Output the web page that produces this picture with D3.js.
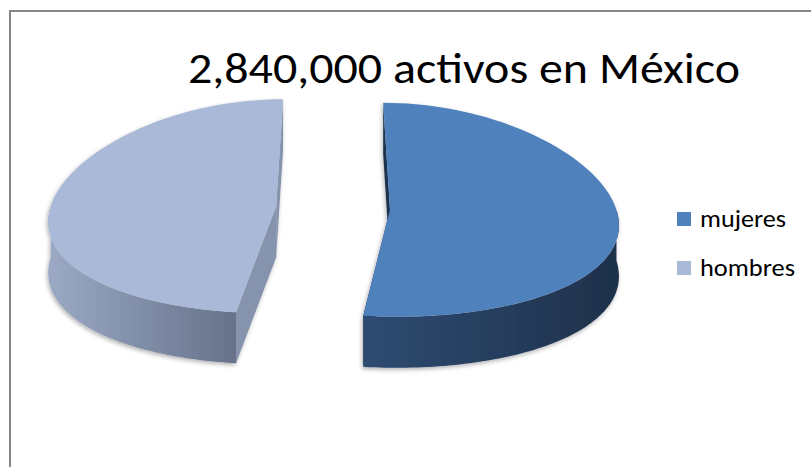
<!DOCTYPE html>
<html lang="es">
<head>
<meta charset="UTF-8">
<title>2,840,000 activos en México</title>
<style>
  body { margin: 0; background: #fff; }
  svg { display: block; font-family: Carlito, Calibri, Lato, sans-serif; }
</style>
</head>
<body>
<script src="https://d3js.org/d3.v7.min.js"></script>
<script>
// data (split)
var title = "2,840,000 activos en México";
var categories = ["mujeres", "hombres"];
var values = [1480000, 1360000];

var width = 811, height = 467;

var svg = d3.select("body").append("svg")
  .attr("width", width).attr("height", height);

// chart frame, runs off the right and bottom edge like the screenshot
svg.append("rect")
  .attr("x", 10).attr("y", 11)
  .attr("width", 900).attr("height", 600)
  .attr("fill", "#fff")
  .attr("stroke", "#868686").attr("stroke-width", 2);

var topColor  = d3.scaleOrdinal().domain(categories).range(["#4f81bd", "#a9b9d7"]);
var cutColor  = d3.scaleOrdinal().domain(categories).range(["#1f3350", "#8693ad"]);
var sideLight = d3.scaleOrdinal().domain(categories).range(["#2e4c72", "#9ba9c5"]);
var sideDark  = d3.scaleOrdinal().domain(categories).range(["#1e304b", "#66728a"]);

// 3d pie geometry; k gives a little perspective (near side wider)
var cx = 333, cy = 208, rx = 226, ry = 107, depth = 51, explode = 57, k = 0.12;

var pie = d3.pie().sort(null).value(function(d) { return d; });
var arcs = pie(values);

function pt(c, a, dz) {
  var gx = c[0] + rx * Math.sin(a), gy = c[1] - ry * Math.cos(a);
  var f = 1 + k * (gy - cy) / ry;
  return [cx + (gx - cx) * f, gy + (dz || 0)];
}
function centre(c, dz) {
  var f = 1 + k * (c[1] - cy) / ry;
  return [cx + (c[0] - cx) * f, c[1] + (dz || 0)];
}
function arcPts(c, a0, a1, dz) {
  var n = 80, out = [];
  for (var j = 0; j <= n; j++) out.push(pt(c, a0 + (a1 - a0) * j / n, dz));
  return out;
}
var line = d3.line().curve(d3.curveLinearClosed);

var defs = svg.append("defs");
var shadow = defs.append("filter").attr("id", "shadow")
  .attr("x", "-10%").attr("y", "-10%").attr("width", "120%").attr("height", "130%");
shadow.append("feDropShadow")
  .attr("dx", -1).attr("dy", 2).attr("stdDeviation", 2)
  .attr("flood-color", "#000").attr("flood-opacity", 0.3);

arcs.forEach(function(d, i) {
  var name = categories[i];
  var mid = (d.startAngle + d.endAngle) / 2;
  var c = [cx + explode * Math.sin(mid), cy - explode * Math.cos(mid) * ry / rx];
  var g = svg.append("g").attr("filter", "url(#shadow)");

  // cut faces
  [d.startAngle, d.endAngle].forEach(function(a) {
    g.append("path")
      .attr("d", line([centre(c), pt(c, a), pt(c, a, depth), centre(c, depth)]))
      .attr("fill", cutColor(name));
  });

  // outer wall, only the front half shows
  var a0 = Math.max(d.startAngle, Math.PI / 2);
  var a1 = Math.min(d.endAngle, 3 * Math.PI / 2);
  if (a1 > a0) {
    var gid = "side" + i;
    var grad = defs.append("linearGradient").attr("id", gid)
      .attr("x1", "0%").attr("x2", "100%").attr("y1", "0%").attr("y2", "0%");
    grad.append("stop").attr("offset", "0%").attr("stop-color", sideLight(name));
    grad.append("stop").attr("offset", "100%").attr("stop-color", sideDark(name));
    var pts = arcPts(c, a0, a1).concat(arcPts(c, a1, a0, depth));
    g.append("path")
      .attr("d", line(pts))
      .attr("fill", "url(#" + gid + ")");
  }

  // top face
  g.append("path")
    .attr("d", line([centre(c)].concat(arcPts(c, d.startAngle, d.endAngle))))
    .attr("fill", topColor(name));
});

// title
svg.append("text")
  .attr("x", 464).attr("y", 83)
  .attr("text-anchor", "middle")
  .attr("font-size", 44)
  .attr("fill", "#000")
  .attr("textLength", 552).attr("lengthAdjust", "spacingAndGlyphs")
  .text(title);

// legend
var legend = svg.append("g").attr("transform", "translate(677,212)");
var item = legend.selectAll("g").data(categories).enter().append("g")
  .attr("transform", function(d, i) { return "translate(0," + i * 49 + ")"; });
item.append("rect")
  .attr("width", 14).attr("height", 14)
  .attr("fill", function(d) { return topColor(d); });
item.append("text")
  .attr("x", 23).attr("y", 15)
  .attr("font-size", 25)
  .attr("fill", "#000")
  .attr("textLength", function(d) { return d === "mujeres" ? 86 : 95; })
  .attr("lengthAdjust", "spacingAndGlyphs")
  .text(function(d) { return d; });
</script>
</body>
</html>
